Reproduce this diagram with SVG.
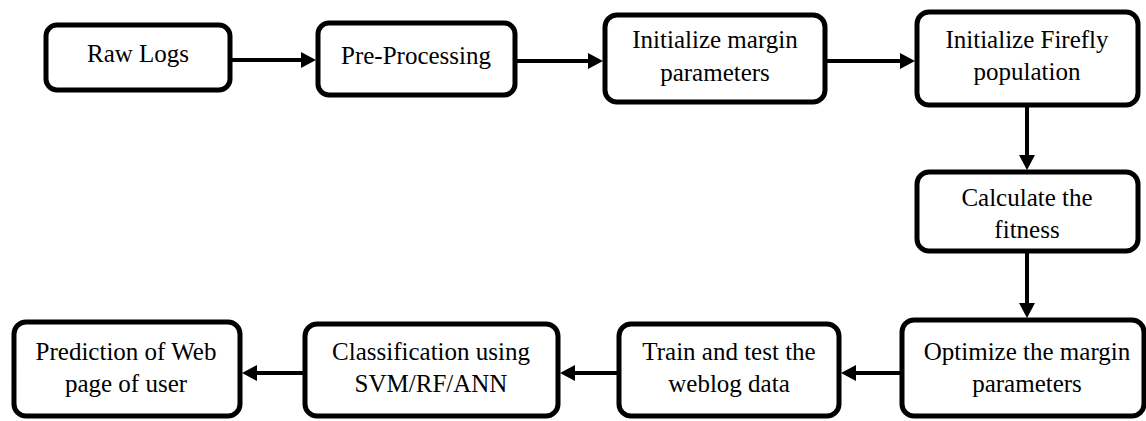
<svg xmlns="http://www.w3.org/2000/svg" width="1146" height="421" viewBox="0 0 1146 421">
<style>
.box{fill:#fff;stroke:#000;stroke-width:5}
.lbl{font-family:"Liberation Serif","Times New Roman",serif;font-size:25px;fill:#000;text-anchor:middle}
.conn{stroke:#000;stroke-width:4;fill:none}
</style>
<defs>
<marker id="ah" markerUnits="userSpaceOnUse" markerWidth="18" markerHeight="18" refX="5" refY="8" orient="auto">
<path d="M0,0 L15,8 L0,16 Z" fill="#000"/>
</marker>
</defs>
<rect width="1146" height="421" fill="#fff"/>
<g id="connectors">
<line class="conn" x1="232" y1="60" x2="306" y2="60" marker-end="url(#ah)"/>
<line class="conn" x1="517" y1="61" x2="593" y2="61" marker-end="url(#ah)"/>
<line class="conn" x1="827" y1="61" x2="905" y2="61" marker-end="url(#ah)"/>
<line class="conn" x1="1027" y1="107" x2="1027" y2="160" marker-end="url(#ah)"/>
<line class="conn" x1="1027" y1="253" x2="1027" y2="308" marker-end="url(#ah)"/>
<line class="conn" x1="900" y1="373" x2="851" y2="373" marker-end="url(#ah)"/>
<line class="conn" x1="617" y1="373" x2="570" y2="373" marker-end="url(#ah)"/>
<line class="conn" x1="303" y1="373" x2="252" y2="373" marker-end="url(#ah)"/>
</g>
<g id="raw-logs">
<rect class="box" x="46" y="25" width="184" height="65" rx="11"/>
<text class="lbl" x="138" y="62">Raw Logs</text>
</g>
<g id="pre-processing">
<rect class="box" x="318" y="23" width="197" height="72" rx="11"/>
<text class="lbl" x="416" y="64">Pre-Processing</text>
</g>
<g id="init-margin">
<rect class="box" x="605" y="15" width="220" height="87" rx="12"/>
<text class="lbl" x="715" y="48">Initialize margin</text>
<text class="lbl" x="715" y="81">parameters</text>
</g>
<g id="init-firefly">
<rect class="box" x="917" y="12" width="221" height="93" rx="12"/>
<text class="lbl" x="1027" y="48">Initialize Firefly</text>
<text class="lbl" x="1027" y="80">population</text>
</g>
<g id="calc-fitness">
<rect class="box" x="917" y="172" width="221" height="79" rx="12"/>
<text class="lbl" x="1027" y="206">Calculate the</text>
<text class="lbl" x="1027" y="238">fitness</text>
</g>
<g id="optimize">
<rect class="box" x="902" y="320" width="242" height="96" rx="12"/>
<text class="lbl" x="1027" y="360">Optimize the margin</text>
<text class="lbl" x="1027" y="392">parameters</text>
</g>
<g id="train-test">
<rect class="box" x="619" y="324" width="220" height="92" rx="12"/>
<text class="lbl" x="729" y="360">Train and test the</text>
<text class="lbl" x="729" y="392">weblog data</text>
</g>
<g id="classification">
<rect class="box" x="305" y="324" width="253" height="92" rx="12"/>
<text class="lbl" x="431" y="360">Classification using</text>
<text class="lbl" x="431" y="392">SVM/RF/ANN</text>
</g>
<g id="prediction">
<rect class="box" x="14" y="322" width="226" height="94" rx="12"/>
<text class="lbl" x="126" y="360">Prediction of Web</text>
<text class="lbl" x="126" y="392">page of user</text>
</g>
</svg>
